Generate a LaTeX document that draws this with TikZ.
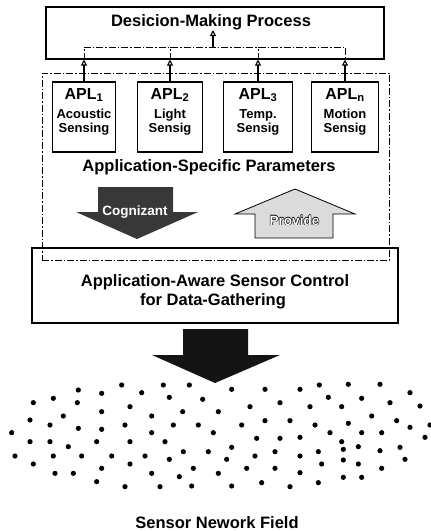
\documentclass[tikz,border=0pt]{standalone}
\usepackage{fontspec}
\setmainfont{Liberation Sans}
\usetikzlibrary{arrows.meta}
\newcommand{\outlinedtext}[1]{%
  \makebox[0pt]{\color{black}\raisebox{0.6pt}{#1}}%
  \makebox[0pt]{\color{black}\raisebox{-0.6pt}{#1}}%
  \makebox[0pt]{\color{black}\hspace*{1.2pt}#1}%
  \makebox[0pt]{\color{black}#1\hspace*{1.2pt}}%
  \makebox[0pt]{\color{white}#1}}
\definecolor{cogfill}{gray}{0.22}
\definecolor{provfill}{gray}{0.86}
\begin{document}
\begin{tikzpicture}[x=1pt,y=-1pt,
  box/.style={draw, line width=1.1pt, inner sep=0pt},
  dd/.style={line width=1pt, dash pattern=on 7pt off 2pt on 1.5pt off 2pt},
  conn/.style={line width=1.1pt, -{Triangle[open,length=6pt,width=6pt]}},
  big/.style={font=\fontsize{16.5}{19}\selectfont\bfseries},
  apl/.style={font=\fontsize{16}{16}\selectfont\bfseries, anchor=base, inner sep=0pt},
  sub/.style={font=\fontsize{13}{13}\selectfont\bfseries, anchor=base, inner sep=0pt},
]
\useasboundingbox (0,0) rectangle (431,531);

% top box
\node[box, minimum width=338pt, minimum height=52pt] (top) at (215,33) {};
\node[big, anchor=base, inner sep=0pt] (title) at (211,26) {Desicion-Making Process};

% dashed parameter region
\node[dd, draw, minimum width=347pt, minimum height=187pt, inner sep=0pt] (params) at (215.5,166.5) {};

% APL boxes
\node[box, minimum width=63pt, minimum height=70pt] (a1) at (84,117) {};
\node[box, minimum width=65pt, minimum height=70pt] (a2) at (170,117) {};
\node[box, minimum width=69pt, minimum height=70pt] (a3) at (258,117) {};
\node[box, minimum width=67pt, minimum height=70pt] (a4) at (345,117) {};

\node[apl] (t1) at (84,99) {APL\textsubscript{1}};
\node[sub] (s1a) at (84,118) {Acoustic};
\node[sub] (s1b) at (84,132) {Sensing};
\node[apl] (t2) at (170,99) {APL\textsubscript{2}};
\node[sub] (s2a) at (170,118) {Light};
\node[sub] (s2b) at (170,132) {Sensig};
\node[apl] (t3) at (258,99) {APL\textsubscript{3}};
\node[sub] (s3a) at (258,118) {Temp.};
\node[sub] (s3b) at (258,132) {Sensig};
\node[apl] (t4) at (345,99) {APL\textsubscript{n}};
\node[sub] (s4a) at (345,118) {Motion};
\node[sub] (s4b) at (345,132) {Sensig};

% connectors to decision box
\coordinate (bus) at (213,47);
\coordinate (in) at (213,30);
\foreach \a in {a1,a2,a3,a4}
  \draw[conn] (\a.north) -- (\a.north |- top.south);
\draw[dd] (a1.north |- top.south) |- (a4.north |- bus) -- (a4.north |- top.south);
\draw[dd] (a2.north |- top.south) -- (a2.north |- bus);
\draw[dd] (a3.north |- top.south) -- (a3.north |- bus);
\draw[conn] (bus) -- (in);

\node[big, anchor=base, inner sep=0pt] (asp) at (209,171) {Application-Specific Parameters};

% Cognizant arrow
\fill[cogfill] (98,187) -- (173,187) -- (173,212) -- (198,212) -- (137,239) -- (76,212) -- (98,212) -- cycle;
\node[font=\fontsize{13.5}{14}\selectfont\bfseries, text=white, anchor=base, inner sep=0pt] (cog) at (135,215) {Cognizant};

% Provide arrow
\filldraw[fill=provfill, draw=black, line width=0.8pt] (255,238) -- (333,238) -- (333,214) -- (355,214) -- (295,189) -- (235,214) -- (255,214) -- cycle;
\node[font=\fontsize{13.5}{14}\selectfont\bfseries, anchor=base, inner sep=0pt] (prov) at (294.5,225) {\outlinedtext{Provide}};

% control box
\node[box, minimum width=366pt, minimum height=75pt] (ctrl) at (215,285.5) {};
\node[big, anchor=base, inner sep=0pt] (c1) at (215,286) {Application-Aware Sensor Control};
\node[big, anchor=base, inner sep=0pt] (c2) at (213,305) {for Data-Gathering};

% big black arrow
\fill[black!92] (183,329) -- (248,329) -- (248,355) -- (280,355) -- (215,383) -- (152,355) -- (183,355) -- cycle;

% sensor dots
\foreach \a/\b in {365/135,490/135,568/135,235/150,305/160,425/158,695/148,795/148,900/148,958/135,1045/133,1140/133,1230/158,100/188,160/175,232/188,508/172,608/178,840/188,985/172,1085/175,1170/188,1260/198,
190/228,305/215,390/200,455/228,548/215,655/215,750/200,930/200,1025/200,1115/228,90/240,150/255,235/265,305/268,375/255,455/278,520/255,595/255,725/255,795/242,870/242,945/255,1045/250,1190/242,1230/262,1290/255,
35/278,90/305,150/305,205/320,290/305,390/305,495/305,640/278,770/295,840/295,900/292,990/278,1025/305,1085/278,1145/278,1275/292,
45/348,160/348,245/348,335/348,435/348,508/358,550/335,625/335,695/322,765/348,825/335,900/348,955/335,1030/328,1075/320,1140/332,1200/322,1215/358,
100/372,165/400,220/400,305/385,390/372,455/400,538/410,580/385,655/400,680/358,740/385,825/385,900/398,965/372,1030/360,1075/372,1145/385,
290/425,375/440,480/440,575/438,695/438,785/428,870/440,955/428,1030/412,1085/412}
  \fill ({\a/3},{\b/3+340}) circle (2.6);

\node[big, anchor=base, inner sep=0pt] (field) at (217,528) {Sensor Nework Field};
\end{tikzpicture}
\end{document}
